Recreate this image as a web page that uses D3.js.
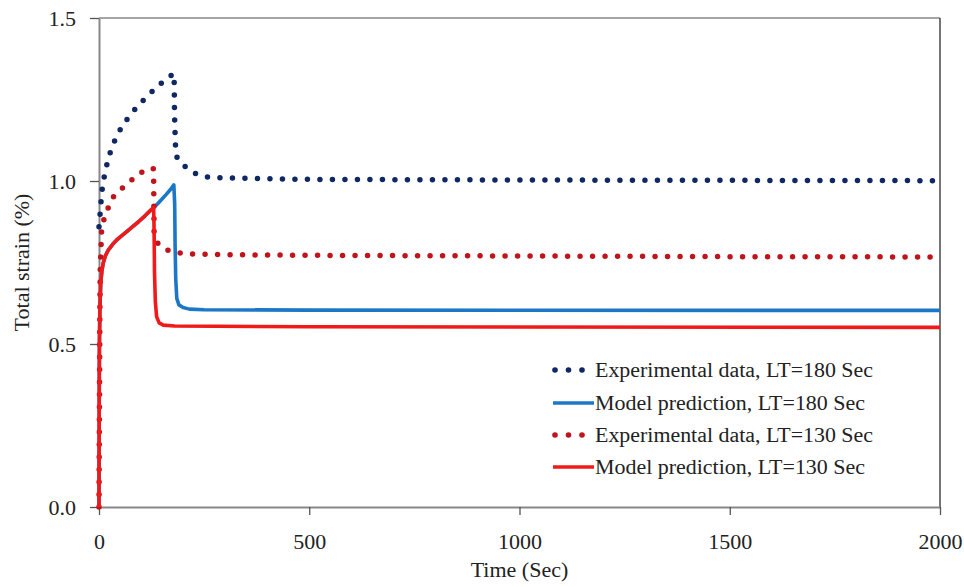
<!DOCTYPE html>
<html>
<head>
<meta charset="utf-8">
<script src="https://cdn.jsdelivr.net/npm/d3@7"></script>
<style>
  html, body { margin: 0; padding: 0; background: #fff; }
  svg { display: block; }
  text { font-family: "Liberation Serif", "Times New Roman", serif; fill: #222; }
</style>
</head>
<body>
<svg id="chart" width="964" height="587"></svg>
<script>
// Time (s) and total strain (%) for each series
const exp180 = [
  [0, 0.86], [4, 0.921], [6, 0.959], [10, 0.997], [16, 1.036], [23, 1.073], [32, 1.108],
  [44, 1.143], [59, 1.176], [76, 1.205], [94, 1.233], [114, 1.259], [134, 1.284],
  [155, 1.308], [178, 1.330], [179, 1.296], [179.5, 1.22], [180, 1.183], [181, 1.144],
  [182, 1.106], [186, 1.068], [206, 1.043], [231, 1.022], [259, 1.012], [289, 1.010],
  [350, 1.008], [500, 1.005], [1000, 1.003], [1500, 1.002], [2000, 1.001]
];
const model180 = [
  [0, 0], [0.5, 0.3], [1, 0.5], [2, 0.6], [4, 0.686], [7, 0.725], [10, 0.748], [15, 0.77],
  [22, 0.788], [32, 0.805], [42, 0.819], [55, 0.833], [66, 0.845], [80, 0.86], [94, 0.875],
  [110, 0.894], [125, 0.913], [130, 0.918], [140, 0.931], [150, 0.945], [160, 0.959],
  [170, 0.974], [178, 0.988], [180, 0.93], [181, 0.8], [182.5, 0.7], [185, 0.64],
  [190, 0.62], [200, 0.612], [215, 0.607], [250, 0.605], [500, 0.604], [2000, 0.603]
];
const exp130 = [
  [0, 0], [2, 0.6], [3, 0.732], [4, 0.768], [5, 0.806], [6, 0.844], [11, 0.879], [21, 0.915],
  [34, 0.951], [51, 0.973], [71, 0.996], [91, 1.017], [112, 1.036], [129, 1.038],
  [130, 1.0], [130.5, 0.923], [131, 0.846], [140, 0.809], [162, 0.788], [187, 0.780],
  [211, 0.776], [300, 0.774], [500, 0.772], [1000, 0.770], [1500, 0.768], [2000, 0.767]
];
const model130 = [
  [0, 0], [0.5, 0.3], [1, 0.5], [2, 0.6], [4, 0.686], [7, 0.725], [10, 0.748], [15, 0.77],
  [22, 0.788], [32, 0.805], [42, 0.819], [55, 0.833], [66, 0.845], [80, 0.86], [94, 0.875],
  [110, 0.894], [125, 0.913], [130, 0.918], [131, 0.85], [132, 0.72], [134, 0.63],
  [137, 0.584], [143, 0.565], [153, 0.558], [180, 0.555], [500, 0.553], [2000, 0.551]
];

const xTicks = [0, 500, 1000, 1500, 2000];
const yTicks = [0, 0.5, 1.0, 1.5];

const seriesNames = [
  "Experimental data, LT=180 Sec",
  "Model prediction, LT=180 Sec",
  "Experimental data, LT=130 Sec",
  "Model prediction, LT=130 Sec"
];

const margin = { left: 99, right: 24, top: 18, bottom: 80 };
const W = 964, H = 587;
const svg = d3.select("#chart");

const x = d3.scaleLinear().domain([0, 2000]).range([margin.left, W - margin.right]);
const y = d3.scaleLinear().domain([0, 1.5]).range([H - margin.bottom, margin.top]);

const axisColor = "#878787";

// frame: top and right edges
svg.append("line")
  .attr("x1", x(0)).attr("x2", x(2000)).attr("y1", y(1.5)).attr("y2", y(1.5))
  .attr("stroke", axisColor).attr("stroke-width", 1.5);
svg.append("line")
  .attr("x1", x(2000)).attr("x2", x(2000)).attr("y1", y(1.5)).attr("y2", y(0))
  .attr("stroke", "#1a1a1a").attr("stroke-width", 1.2);

// axes
const gx = svg.append("g")
  .attr("transform", `translate(0,${y(0)})`)
  .call(d3.axisBottom(x).tickValues(xTicks).tickFormat(d3.format("d")).tickSize(8).tickSizeOuter(0).tickPadding(14));
const gy = svg.append("g")
  .attr("transform", `translate(${x(0)},0)`)
  .call(d3.axisLeft(y).tickValues(yTicks).tickFormat(d3.format(".1f")).tickSize(9).tickSizeOuter(0).tickPadding(14));

[gx, gy].forEach(g => {
  g.select(".domain").attr("stroke", axisColor).attr("stroke-width", 2);
  g.selectAll(".tick line").attr("stroke", "#555").attr("stroke-width", 1.3);
  g.selectAll(".tick text")
    .style("font-family", '"Liberation Serif", "Times New Roman", serif')
    .style("font-size", "22px").attr("fill", "#222");
});
gx.selectAll(".tick text").attr("dy", "0.9em");
gy.selectAll(".tick text").attr("dy", "0.34em");

// axis titles
svg.append("text")
  .attr("x", x(1000)).attr("y", 577)
  .attr("text-anchor", "middle")
  .style("font-size", "22px")
  .text("Time (Sec)");
svg.append("text")
  .attr("transform", `translate(29,${(y(0) + y(1.5)) / 2}) rotate(-90)`)
  .attr("text-anchor", "middle")
  .style("font-size", "22px")
  .text("Total strain (%)");

// series
const line = d3.line().x(d => x(d[0])).y(d => y(d[1])).curve(d3.curveLinear);

const styles = [
  { data: exp180, color: "#0f2763", dotted: true },
  { data: model180, color: "#1c78c6", dotted: false },
  { data: exp130, color: "#bf141b", dotted: true },
  { data: model130, color: "#f01a1a", dotted: false }
];

const plot = svg.append("g");
styles.forEach(s => {
  const p = plot.append("path")
    .datum(s.data)
    .attr("d", line)
    .attr("fill", "none")
    .attr("stroke", s.color)
    .attr("stroke-linejoin", "round");
  if (s.dotted) {
    p.attr("stroke-width", 5.5)
     .attr("stroke-linecap", "round")
     .attr("stroke-dasharray", "0 12.5");
  } else {
    p.attr("stroke-width", 3.6);
  }
});

// legend
const legend = svg.append("g");
const rowY = [370, 403, 435, 467];
const textWidths = [278, 270, 278, 270];
seriesNames.forEach((name, i) => {
  const s = styles[i];
  const g = legend.append("g").attr("transform", `translate(0,${rowY[i]})`);
  if (s.dotted) {
    g.selectAll("circle").data([555, 568.5, 582]).enter().append("circle")
      .attr("cx", d => d).attr("cy", 0).attr("r", 2.8).attr("fill", s.color);
  } else {
    g.append("line").attr("x1", 553).attr("x2", 594).attr("y1", 0).attr("y2", 0)
      .attr("stroke", s.color).attr("stroke-width", 3.6);
  }
  g.append("text")
    .attr("x", 595).attr("y", 0).attr("dy", "0.33em")
    .attr("textLength", textWidths[i])
    .attr("lengthAdjust", "spacingAndGlyphs")
    .style("font-size", "20px")
    .text(name);
});
</script>
</body>
</html>
